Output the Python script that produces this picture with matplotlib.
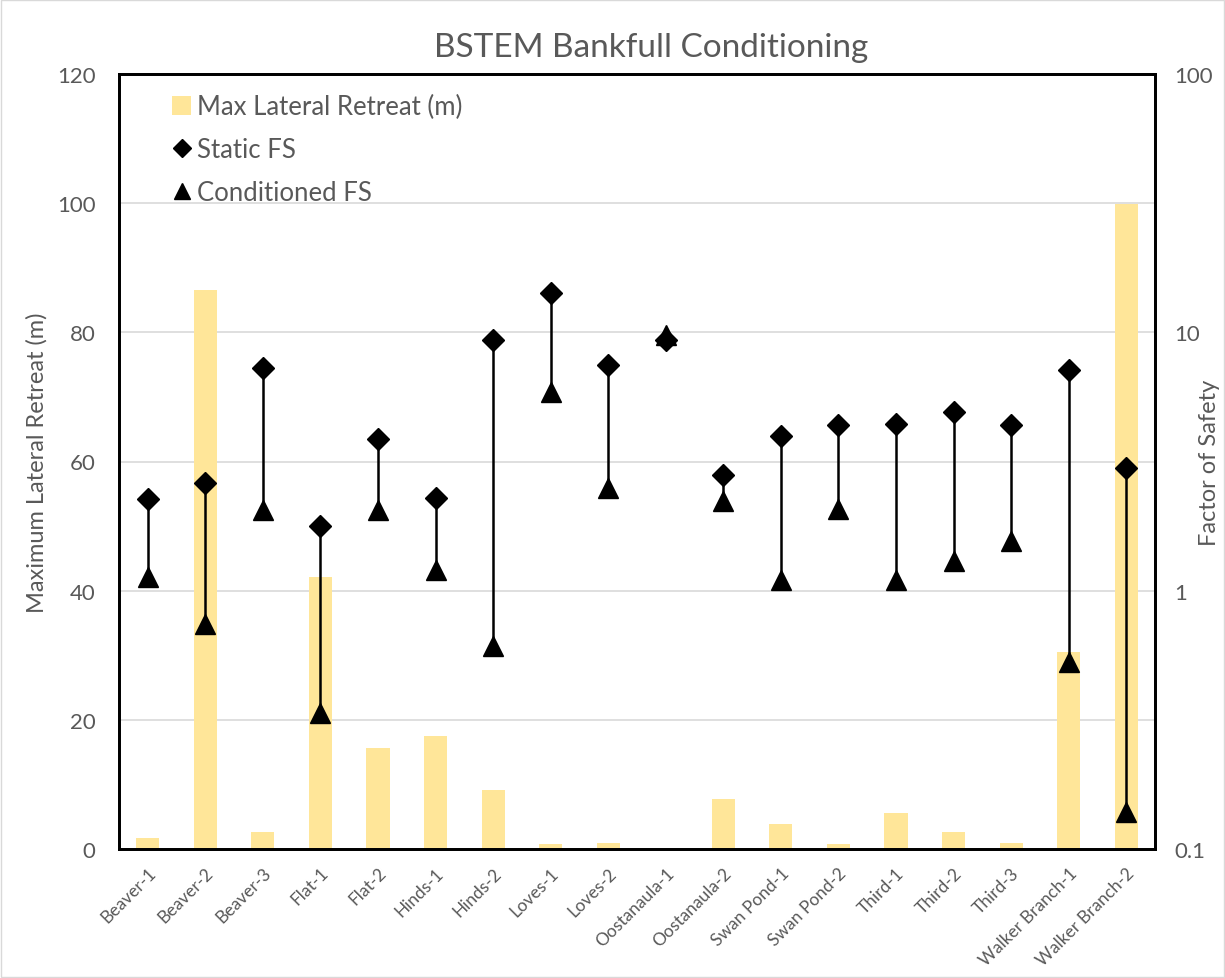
import matplotlib
matplotlib.use("Agg")
import matplotlib.pyplot as plt
from matplotlib.lines import Line2D
from matplotlib.patches import Patch, Rectangle

sites = ['Beaver-1', 'Beaver-2', 'Beaver-3', 'Flat-1', 'Flat-2', 'Hinds-1', 'Hinds-2',
         'Loves-1', 'Loves-2', 'Oostanaula-1', 'Oostanaula-2', 'Swan Pond-1', 'Swan Pond-2',
         'Third-1', 'Third-2', 'Third-3', 'Walker Branch-1', 'Walker Branch-2']
retreat = [1.7, 86.5, 2.7, 42.1, 15.6, 17.5, 9.1, 0.8, 0.9, 0.0, 7.7, 3.9, 0.7,
           5.5, 2.6, 0.9, 30.5, 99.8]
static_fs = [2.26, 2.60, 7.28, 1.78, 3.87, 2.28, 9.3, 14.2, 7.45, 9.35, 2.80, 3.96, 4.36,
             4.42, 4.92, 4.36, 7.15, 2.98]
cond_fs = [1.13, 0.74, 2.05, 0.337, 2.05, 1.20, 0.61, 5.89, 2.49, 9.75, 2.23, 1.10, 2.08,
           1.10, 1.30, 1.56, 0.53, 0.139]

grey = '#595959'
plt.rcParams['font.family'] = ['Lato', 'DejaVu Sans']

fig = plt.figure(figsize=(12.25, 9.79), dpi=100)
ax = fig.add_axes([119 / 1225, 1 - 850 / 979, 1036 / 1225, 775 / 979])
ax2 = ax.twinx()

x = list(range(len(sites)))
ax.bar(x, retreat, width=0.4, color='#FFE699', zorder=2)
ax.set_ylim(0, 120)
ax.set_yticks(range(0, 121, 20))
ax.set_xlim(-0.5, len(sites) - 0.5)
ax.grid(axis='y', color='#D9D9D9', linewidth=1.2, zorder=0)
ax.set_axisbelow(True)
ax.set_xticks(x)
ax.set_xticklabels(sites, rotation=45, ha='right', rotation_mode='anchor',
                   fontsize=12.5, color=grey)
ax.tick_params(axis='x', length=0, pad=11)
ax.tick_params(axis='y', length=0, labelsize=16, labelcolor=grey, pad=17)
ax.set_ylabel('Maximum Lateral Retreat (m)', fontsize=17, color=grey)
ax.yaxis.label.set_verticalalignment('center')
ax.yaxis.set_label_coords(-0.079, 0.5)

ax2.set_yscale('log')
ax2.set_ylim(0.1, 100)
ax2.set_yticks([0.1, 1, 10, 100])
ax2.set_yticklabels(['0.1', '1', '10', '100'])
ax2.minorticks_off()
ax2.tick_params(axis='y', length=0, labelsize=16, labelcolor=grey, pad=14)
ax2.set_ylabel('Factor of Safety', fontsize=17, color=grey)
ax2.yaxis.label.set_verticalalignment('center')
ax2.yaxis.set_label_coords(1.053, 0.5)
ax2.vlines(x, cond_fs, static_fs, color='black', linewidth=1.8, zorder=3)
ax2.plot(x, static_fs, linestyle='none', marker='D', markersize=11,
         color='black', zorder=4)
ax2.plot(x, cond_fs, linestyle='none', marker='^', markersize=15,
         color='black', zorder=5)

for a in (ax, ax2):
    for s in a.spines.values():
        s.set_linewidth(2)
        s.set_color('black')

handles = [Patch(facecolor='#FFE699', edgecolor='none'),
           Line2D([], [], linestyle='none', marker='D', markersize=9, color='black'),
           Line2D([], [], linestyle='none', marker='^', markersize=11, color='black')]
labels = ['Max Lateral Retreat (m)', 'Static FS', 'Conditioned FS']
leg = ax2.legend(handles, labels, loc='upper left', bbox_to_anchor=(0.029, 1.004),
                 frameon=False, fontsize=18.5, labelspacing=0.7, handlelength=0.75,
                 handletextpad=0.2, handleheight=0.75)
for t in leg.get_texts():
    t.set_color(grey)

fig.text(651 / 1225, 1 - 48 / 979, 'BSTEM Bankfull Conditioning', ha='center',
         va='center', fontsize=24, color=grey)
fig.patches.append(Rectangle((0.001, 0.001), 0.998, 0.998, transform=fig.transFigure,
                             fill=False, edgecolor='#D9D9D9', linewidth=1))

fig.savefig('out.png', dpi=100)
